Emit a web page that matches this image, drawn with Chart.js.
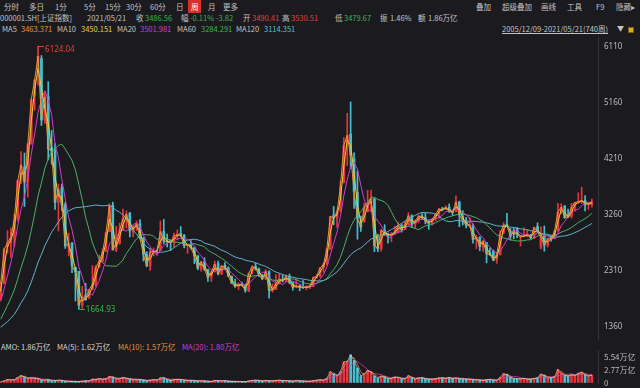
<!DOCTYPE html>
<html>
<head>
<meta charset="utf-8">
<script src="https://cdn.jsdelivr.net/npm/chart.js@4.4.1/dist/chart.umd.min.js"></script>
<style>
  html, body { margin: 0; padding: 0; background: #1b1b1f; }
  #wrap { position: relative; width: 640px; height: 388px; overflow: hidden; background: #1b1b1f;
          font-family: "Noto Sans CJK SC", "Noto Sans", sans-serif; font-size: 7.5px; color: #c4c4c4; }
  .t { position: absolute; white-space: nowrap; line-height: 11px; }
  .r1 { top: 1px; }
  .r2 { top: 12px; }
  .r3 { top: 23px; }
  .rv { top: 341px; }
  .g { color: #35b64a; }
  .r { color: #e43b3b; }
  #weekBox { position: absolute; left: 188px; top: 0px; width: 13px; height: 13px; background: #d9302c; }
  #lockIcon { position: absolute; left: 628px; top: 27px; width: 6px; height: 6px; background: #d8b21e; border: 1px solid #7a6210; box-sizing: border-box; }
  #priceBox { position: absolute; left: 0; top: 37px; width: 640px; height: 303px; }
  #volBox { position: absolute; left: 0; top: 340px; width: 640px; height: 48px; }
</style>
</head>
<body>
<div id="wrap">
  <!-- period bar -->
  <span class="t r1" style="left:4px">分时</span>
  <span class="t r1" style="left:29px">多日</span>
  <span class="t r1" style="left:55px">1分</span>
  <span class="t r1" style="left:84px">5分</span>
  <span class="t r1" style="left:105px">15分</span>
  <span class="t r1" style="left:126px">30分</span>
  <span class="t r1" style="left:150px">60分</span>
  <span class="t r1" style="left:176px">日</span>
  <div id="weekBox"></div>
  <span class="t r1" style="left:191px;color:#fff">周</span>
  <span class="t r1" style="left:208px">月</span>
  <span class="t r1" style="left:223px">更多</span>
  <span class="t r1" style="left:476px">叠加</span>
  <span class="t r1" style="left:502px">超级叠加</span>
  <span class="t r1" style="left:541px">画线</span>
  <span class="t r1" style="left:567px">工具</span>
  <span class="t r1" style="left:596px">F9</span>
  <span class="t r1" style="left:616px">隐藏▸</span>

  <!-- quote line -->
  <span class="t r2" style="left:0px">000001.SH[上证指数]</span>
  <span class="t r2" style="left:87px">2021/05/21</span>
  <span class="t r2" style="left:136px">收</span>
  <span class="t r2 g" style="left:145px">3486.56</span>
  <span class="t r2" style="left:181px">幅</span>
  <span class="t r2 g" style="left:190px">-0.11%</span>
  <span class="t r2 g" style="left:216px">-3.82</span>
  <span class="t r2" style="left:243px">开</span>
  <span class="t r2 r" style="left:252px">3490.41</span>
  <span class="t r2" style="left:282px">高</span>
  <span class="t r2 r" style="left:291px">3530.51</span>
  <span class="t r2" style="left:335px">低</span>
  <span class="t r2 g" style="left:344px">3479.67</span>
  <span class="t r2" style="left:380px">振</span>
  <span class="t r2" style="left:390px">1.46%</span>
  <span class="t r2" style="left:418px">额</span>
  <span class="t r2" style="left:428px">1.86万亿</span>

  <!-- moving averages line -->
  <span class="t r3" style="left:2px">MA5</span>
  <span class="t r3" style="left:21px;color:#e8963a">3463.371</span>
  <span class="t r3" style="left:57px">MA10</span>
  <span class="t r3" style="left:81px;color:#e2cf46">3450.151</span>
  <span class="t r3" style="left:117px">MA20</span>
  <span class="t r3" style="left:140px;color:#d23cd2">3501.981</span>
  <span class="t r3" style="left:177px">MA60</span>
  <span class="t r3" style="left:201px;color:#3fb54c">3284.291</span>
  <span class="t r3" style="left:236px">MA120</span>
  <span class="t r3" style="left:264px;color:#4fc3d2">3114.351</span>
  <span class="t r3" style="left:502px;text-decoration:underline">2005/12/09-2021/05/21(740周)</span>
  <span class="t r3" style="left:617px;font-size:7px">▼</span>
  <div id="lockIcon"></div>

  <div id="priceBox"><canvas id="price" width="640" height="303"></canvas></div>

  <!-- amount header -->
  <span class="t rv" style="left:1px;color:#d8d8d8">AMO: 1.86万亿</span>
  <span class="t rv" style="left:57px;color:#d8d8d8">MA(5): 1.62万亿</span>
  <span class="t rv" style="left:118px;color:#e8963a">MA(10): 1.57万亿</span>
  <span class="t rv" style="left:182px;color:#d23cd2">MA(20): 1.80万亿</span>

  <div id="volBox"><canvas id="vol" width="640" height="48"></canvas></div>
</div>

<script>
// closes before the visible window (2004/01 - 2006/10), only used to seed the long averages
const priorCloses = [
  1590, 1675, 1742, 1595, 1555, 1399, 1386, 1342, 1396, 1320, 1341, 1266,
  1191, 1306, 1181, 1159, 1060, 1080, 1083, 1162, 1155, 1092, 1099, 1161,
  1258, 1299, 1298, 1440, 1641, 1672, 1612, 1658, 1753, 1837
];

// one bar per month, 2006/11 - 2021/05
const opens = [
  1838, 2101,
  2728, 2781, 2880, 3196, 3853, 4070, 3836, 4476, 5284, 5683, 5914, 4868,
  5265, 4398, 4349, 3475, 3723, 3435, 2717, 2782, 2375, 2306, 1732, 1897,
  1849, 2001, 2073, 2375, 2480, 2643, 2977, 3429, 2663, 2784, 3008, 3201,
  3289, 2980, 3052, 3111, 2869, 2591, 2399, 2631, 2640, 2658, 2982, 2817,
  2825, 2789, 2918, 2946, 2913, 2746, 2765, 2703, 2570, 2349, 2470, 2332,
  2212, 2296, 2440, 2257, 2405, 2361, 2216, 2104, 2047, 2092, 2067, 1974,
  2289, 2387, 2350, 2229, 2175, 2300, 1981, 1996, 2101, 2176, 2143, 2220,
  2112, 2035, 2058, 2032, 2026, 2042, 2049, 2200, 2216, 2373, 2430, 2683,
  3258, 3212, 3337, 3810, 4480, 4633, 4214, 3643, 3157, 3143, 3325, 3456,
  3536, 2730, 2688, 3003, 2939, 2914, 2931, 2964, 3081, 3014, 3103, 3245,
  3105, 3163, 3246, 3219, 3147, 3109, 3193, 3277, 3363, 3356, 3395, 3315,
  3314, 3478, 3236, 3163, 3086, 3084, 2841, 2882, 2716, 2796, 2614, 2649,
  2497, 2584, 2954, 3101, 2952, 2997, 3024, 2886, 2898, 2911, 2923, 2870,
  3066, 2716, 2899, 2743, 2878, 2863, 2991, 3328, 3406, 3262, 3238, 3409,
  3474, 3481, 3510, 3441, 3437
];
const highs = [
  2104, 2698,
  2995, 3040, 3274, 3849, 4335, 4312, 4471, 5218, 5562, 6124.04, 5966, 5355,
  5522, 4695, 4472, 3786, 3786, 3474, 2952, 2796, 2375, 2306, 2050, 2100,
  2001, 2403, 2404, 2579, 2688, 2966, 3454, 3478, 3068, 3123, 3361, 3330,
  3306, 3080, 3157, 3181, 2878, 2637, 2680, 2702, 2674, 3159, 3186, 2938,
  2840, 2955, 3008, 3067, 2933, 2766, 2827, 2709, 2570, 2480, 2536, 2340,
  2306, 2478, 2478, 2397, 2453, 2382, 2227, 2174, 2111, 2124, 2089, 2276,
  2398, 2444, 2360, 2255, 2334, 2314, 2092, 2249, 2270, 2242, 2243, 2260,
  2113, 2177, 2075, 2146, 2062, 2068, 2208, 2248, 2366, 2431, 2690, 3239,
  3406, 3347, 3835, 4572, 4986, 5178, 4317, 4006, 3243, 3459, 3678, 3685,
  3538, 2934, 3018, 3097, 2952, 2963, 3070, 3140, 3107, 3140, 3301, 3264,
  3174, 3261, 3283, 3296, 3167, 3192, 3277, 3373, 3392, 3418, 3450, 3326,
  3587, 3495, 3335, 3220, 3219, 3111, 2915, 2894, 2827, 2796, 2703, 2667,
  2618, 2995, 3129, 3288, 3033, 3046, 3048, 2908, 3042, 3005, 2932, 3056,
  3127, 3058, 3074, 2864, 2913, 2991, 3458, 3453, 3426, 3361, 3458, 3474,
  3637, 3732, 3588, 3482, 3530.51
];
const lows = [
  1826, 2092,
  2617, 2541, 2723, 3160, 3792, 3404, 3563, 4458, 5037, 5462, 4778, 4812,
  4195, 4123, 3357, 2990, 3333, 2693, 2566, 2284, 1802, 1664.93, 1678, 1814,
  1844, 1990, 2037, 2375, 2460, 2638, 2976, 2667, 2639, 2762, 3000, 3039,
  2890, 2890, 2997, 2858, 2481, 2382, 2319, 2564, 2573, 2657, 2774, 2720,
  2661, 2720, 2838, 2890, 2701, 2610, 2683, 2437, 2331, 2307, 2319, 2134,
  2132, 2291, 2242, 2254, 2334, 2214, 2096, 2031, 1999, 2058, 1949, 1959,
  2264, 2324, 2218, 2161, 2166, 1849, 1952, 1996, 2090, 2124, 2127, 2096,
  1984, 2030, 1974, 2014, 1991, 2010, 2044, 2185, 2210, 2287, 2412, 2676,
  3095, 3049, 3310, 3803, 4099, 4050, 3373, 2850, 2983, 3139, 3310, 3327,
  2638, 2638, 2647, 2916, 2781, 2807, 2929, 2952, 2969, 3014, 3092, 3045,
  3044, 3132, 3185, 3111, 3016, 3092, 3160, 3203, 3329, 3354, 3305, 3255,
  3314, 3062, 3091, 3041, 3057, 2782, 2691, 2653, 2644, 2449, 2574, 2483,
  2440, 2584, 2950, 3063, 2838, 2857, 2876, 2733, 2894, 2890, 2857, 2857,
  2977, 2685, 2646, 2719, 2815, 2853, 2986, 3276, 3202, 3219, 3209, 3325,
  3457, 3455, 3328, 3354, 3395
];
const closes = [
  2099, 2675,
  2786, 2881, 3183, 3841, 4109, 3820, 4471, 5218, 5552, 5955, 4871, 5262,
  4383, 4348, 3473, 3693, 3433, 2736, 2776, 2397, 2293, 1729, 1872, 1821,
  1991, 2082, 2373, 2478, 2633, 2959, 3412, 2668, 2779, 2996, 3195, 3277,
  2989, 3051, 3110, 2870, 2592, 2398, 2637, 2638, 2655, 2979, 2820, 2808,
  2790, 2905, 2928, 2911, 2743, 2762, 2701, 2567, 2359, 2469, 2333, 2199,
  2292, 2428, 2263, 2397, 2373, 2225, 2103, 2047, 2086, 2069, 1980, 2269,
  2385, 2366, 2237, 2178, 2301, 1979, 1994, 2098, 2174, 2141, 2220, 2116,
  2033, 2056, 2033, 2026, 2039, 2048, 2201, 2217, 2364, 2420, 2683, 3235,
  3210, 3310, 3748, 4442, 4612, 4277, 3664, 3206, 3053, 3383, 3446, 3539,
  2738, 2688, 3004, 2938, 2917, 2930, 2979, 3085, 3005, 3100, 3250, 3104,
  3159, 3242, 3223, 3155, 3117, 3192, 3273, 3361, 3349, 3393, 3317, 3307,
  3481, 3259, 3169, 3082, 3095, 2847, 2876, 2725, 2821, 2603, 2588, 2494,
  2585, 2941, 3091, 3078, 2899, 2979, 2933, 2886, 2905, 2929, 2871, 3050,
  2977, 2880, 2750, 2860, 2852, 2985, 3310, 3396, 3218, 3225, 3392, 3473,
  3483, 3509, 3442, 3447, 3486.56
];
// turnover per bar, 万亿
const amounts = [
  0.25, 0.45,
  0.75, 0.65, 0.7, 1.2, 1.6, 1.3, 0.9, 1.1, 1.0, 0.9, 0.6, 0.6,
  0.75, 0.45, 0.5, 0.6, 0.55, 0.35, 0.35, 0.3, 0.35, 0.3, 0.4, 0.45,
  0.45, 0.85, 0.75, 0.95, 0.8, 0.9, 1.4, 1.25, 0.85, 0.9, 1.2, 0.95,
  0.85, 0.65, 0.7, 0.75, 0.6, 0.45, 0.6, 0.75, 0.6, 1.1, 1.1, 0.7,
  0.55, 0.7, 0.8, 0.75, 0.6, 0.5, 0.55, 0.5, 0.4, 0.45, 0.45, 0.3,
  0.3, 0.55, 0.5, 0.45, 0.5, 0.35, 0.3, 0.3, 0.3, 0.3, 0.25, 0.45,
  0.55, 0.6, 0.55, 0.4, 0.55, 0.45, 0.45, 0.55, 0.6, 0.5, 0.5, 0.45,
  0.35, 0.55, 0.45, 0.4, 0.35, 0.35, 0.5, 0.6, 0.7, 0.6, 1.0, 2.4,
  1.9, 1.5, 2.4, 4.5, 4.6, 6.0, 4.8, 3.2, 1.5, 2.0, 2.7, 2.3,
  1.5, 1.0, 1.5, 1.3, 0.9, 1.0, 1.3, 1.2, 0.9, 0.9, 1.6, 1.1,
  0.8, 1.1, 1.1, 0.9, 0.8, 0.8, 0.9, 1.1, 1.1, 1.0, 1.2, 0.9,
  1.1, 0.9, 0.9, 0.8, 0.8, 0.7, 0.7, 0.6, 0.55, 0.7, 0.8, 0.6,
  0.6, 1.2, 2.0, 1.8, 1.2, 0.9, 0.9, 0.9, 1.0, 0.8, 0.8, 1.0,
  1.1, 1.9, 1.6, 1.1, 1.1, 1.3, 2.9, 2.1, 1.6, 1.5, 1.8, 1.6,
  2.1, 2.3, 1.7, 1.5, 1.7
];

const priceTicks = [1360, 2310, 3260, 4210, 5160, 6110];
const amountTicks = [0, 2.77, 5.54];
const maWeeks = [5, 10, 20, 60, 120];   // weekly periods shown in the header
const maColors = ['#e8963a', '#e2cf46', '#d23cd2', '#4fae6a', '#5fb4c4'];
const volMaColors = ['rgba(230,230,230,0.55)', 'rgba(232,150,58,0.7)', 'rgba(210,60,210,0.7)'];

const UP = '#e8343a';
const DOWN = '#45bfcf';
const weeksPerBar = 52 / 12;

function movingAverage(values, lead, win) {
  const out = [];
  for (let i = lead; i < values.length; i++) {
    if (i - win + 1 < 0) { out.push(null); continue; }
    let s = 0;
    for (let j = i - win + 1; j <= i; j++) s += values[j];
    out.push(s / win);
  }
  return out;
}

const isUp = i => closes[i] >= opens[i];
const barColor = ctx => isUp(ctx.dataIndex) ? UP : DOWN;

// keep the plot area glued to the canvas edges (no room reserved for end labels)
function fitAxis(s) {
  s.width = 42;
  s.paddingTop = 0;
  s.paddingBottom = 0;
}

const allCloses = priorCloses.concat(closes);
const maDatasets = maWeeks.map((w, k) => {
  const win = Math.max(1, Math.round(w / weeksPerBar));
  const ma = movingAverage(allCloses, priorCloses.length, win);
  return {
    type: 'line',
    data: ma.map((v, i) => ({ x: i, y: v })),
    borderColor: maColors[k],
    borderWidth: 1,
    pointRadius: 0,
    tension: 0,
    order: 0
  };
});

// labels for the highest high and lowest low
const extremaLabels = {
  id: 'extremaLabels',
  afterDatasetsDraw(chart) {
    const { ctx, scales: { x, y } } = chart;
    const hi = highs.indexOf(Math.max(...highs));
    const lo = lows.indexOf(Math.min(...lows));
    ctx.save();
    ctx.font = '8px "Noto Sans"';
    ctx.lineWidth = 1;
    ctx.textBaseline = 'middle';

    let px = x.getPixelForValue(hi), py = Math.round(y.getPixelForValue(highs[hi])) + 0.5;
    ctx.strokeStyle = ctx.fillStyle = '#e8403a';
    ctx.beginPath(); ctx.moveTo(px, py); ctx.lineTo(px + 6, py); ctx.stroke();
    ctx.fillText(highs[hi].toFixed(2), px + 7, py + 3);

    px = x.getPixelForValue(lo); py = Math.round(y.getPixelForValue(lows[lo])) + 0.5;
    ctx.strokeStyle = ctx.fillStyle = '#35b64a';
    ctx.beginPath(); ctx.moveTo(px, py); ctx.lineTo(px + 6, py); ctx.stroke();
    ctx.fillText(lows[lo].toFixed(2), px + 7, py);
    ctx.restore();
  }
};

const xRange = { type: 'linear', min: -0.2, max: 175.8, offset: false, display: false, grid: { offset: false } };

new Chart(document.getElementById('price'), {
  type: 'bar',
  data: {
    datasets: [
      ...maDatasets,
      {
        data: closes.map((c, i) => ({ x: i, y: [opens[i], c] })),
        backgroundColor: barColor,
        barThickness: 2,
        minBarLength: 1,
        grouped: false,
        order: 1
      },
      {
        data: closes.map((c, i) => ({ x: i, y: [lows[i], highs[i]] })),
        backgroundColor: barColor,
        barThickness: 1,
        grouped: false,
        order: 2
      }
    ]
  },
  options: {
    responsive: false,
    animation: false,
    layout: { padding: 0 },
    plugins: { legend: { display: false }, tooltip: { enabled: false } },
    scales: {
      x: xRange,
      y: {
        position: 'right',
        min: 1140,
        max: 6280,
        afterFit: fitAxis,
        afterBuildTicks(s) { s.ticks = priceTicks.map(v => ({ value: v })); },
        grid: { color: 'rgba(0,0,0,0)', drawTicks: false },
        border: { display: true, color: '#34343a' },
        ticks: {
          color: '#bcbcbc', font: { size: 8, family: 'Noto Sans' }, padding: 6, autoSkip: false,
          callback: v => String(v)
        }
      }
    }
  },
  plugins: [extremaLabels]
});

const volMaDatasets = maWeeks.slice(0, 3).map((w, k) => {
  const win = Math.max(1, Math.round(w / weeksPerBar));
  const ma = movingAverage(amounts, 0, win);
  return {
    type: 'line',
    data: ma.map((v, i) => ({ x: i, y: v })),
    borderColor: volMaColors[k],
    borderWidth: 1,
    pointRadius: 0,
    tension: 0,
    order: 0
  };
});

new Chart(document.getElementById('vol'), {
  type: 'bar',
  data: {
    datasets: [
      ...volMaDatasets,
      {
        data: amounts.map((a, i) => ({ x: i, y: a })),
        backgroundColor: barColor,
        barThickness: 2,
        grouped: false,
        order: 1
      }
    ]
  },
  options: {
    responsive: false,
    animation: false,
    layout: { padding: { top: 10, bottom: 5 } },
    plugins: { legend: { display: false }, tooltip: { enabled: false } },
    scales: {
      x: xRange,
      y: {
        position: 'right',
        min: 0,
        max: 7.03,
        afterFit: fitAxis,
        afterBuildTicks(s) { s.ticks = amountTicks.map(v => ({ value: v })); },
        grid: { color: 'rgba(0,0,0,0)', drawTicks: false },
        border: { display: true, color: '#34343a' },
        ticks: {
          color: '#bcbcbc', font: { size: 8, family: 'Noto Sans CJK SC' }, padding: 6, autoSkip: false,
          callback: v => v === 0 ? '0' : v.toFixed(2) + '万亿'
        }
      }
    }
  }
});
</script>
</body>
</html>
